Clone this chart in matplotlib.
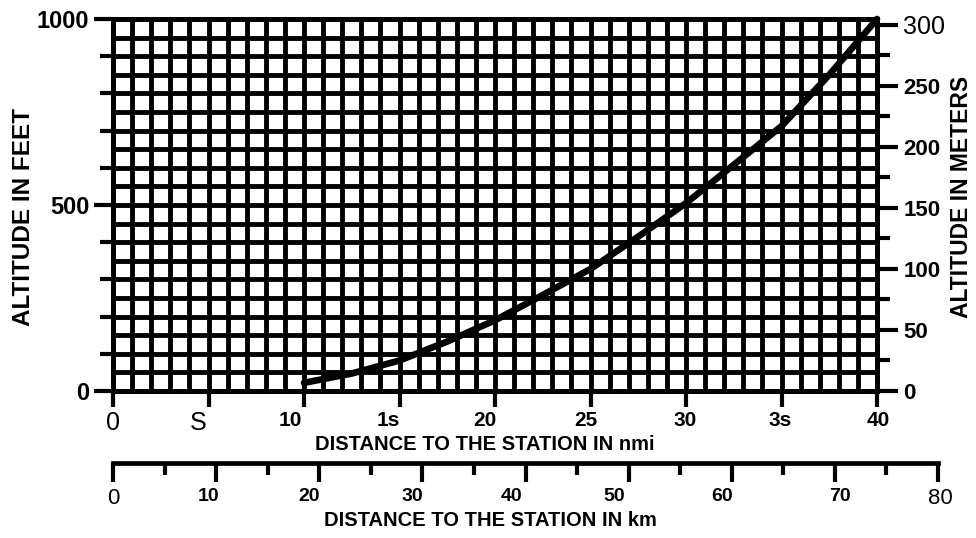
import matplotlib.pyplot as plt
import numpy as np
from matplotlib import font_manager
from matplotlib.transforms import ScaledTranslation

NM_TO_KM = 1.852
FT_PER_M = 3.28084

# Curve (distance in nmi, altitude in feet)
dist_nmi = [10, 12.5, 15, 17.5, 20, 22.5, 25, 27.5, 30, 32.5, 35, 37.5, 40]
alt_ft = [22, 47, 82, 133, 190, 258, 328, 415, 505, 608, 712, 850, 1000]

# Axis ticks / labels as printed on the original
nmi_ticks = [0, 5, 10, 15, 20, 25, 30, 35, 40]
nmi_labels = ["0", "S", "10", "1s", "20", "25", "30", "3s", "40"]
km_ticks = [0, 10, 20, 30, 40, 50, 60, 70, 80]
km_labels = ["0", "10", "20", "30", "40", "50", "60", "70", "80"]
ft_ticks = [0, 500, 1000]
ft_labels = ["0", "500", "1000"]
m_ticks = [0, 50, 100, 150, 200, 250, 300]
m_labels = ["0", "50", "100", "150", "200", "250", "300"]

# Styling of the individual labels (weights and pixel nudges seen in the scan)
nmi_weights = ["normal", "normal", "bold", "bold", "bold", "bold", "bold", "bold", "bold"]
nmi_dx = [0, -10, -14, -11, -10, -5, -1, -1, 1]
km_weights = ["normal", "bold", "bold", "bold", "bold", "bold", "bold", "bold", "normal"]
km_dx = [0, -8, -10, -10, -14, -14, -10, 5, 2]
m_weights = ["bold", "bold", "bold", "bold", "bold", "bold", "normal"]

names = {f.name for f in font_manager.fontManager.ttflist}
NARROW = "Liberation Sans Narrow" if "Liberation Sans Narrow" in names else "Liberation Sans"
plt.rcParams["font.family"] = "Liberation Sans"

W, H = 976, 538
fig = plt.figure(figsize=(W / 100, H / 100), dpi=100)

# plot area in pixels: x 113..877, y 19..391
x0, x1, y0, y1 = 113, 877, 19, 391
ax = fig.add_axes([x0 / W, 1 - y1 / H, (x1 - x0) / W, (y1 - y0) / H])
ax.set_xlim(0, 40)
ax.set_ylim(0, 1000)

# heavy graph-paper grid: 1 nmi by 50 ft
ax.vlines(np.arange(0, 41), 0, 1000, color="black", lw=3.5, zorder=1)
ax.hlines(np.arange(0, 1001, 50), 0, 40, color="black", lw=3.5, zorder=1)
for s in ax.spines.values():
    s.set_linewidth(3.6)

ax.plot(dist_nmi, alt_ft, color="black", lw=4.8, solid_capstyle="round",
        solid_joinstyle="round", zorder=3, clip_on=False)


def nudge(labels, dxs, weights, size_bold, size_norm):
    for lbl, dx, w in zip(labels, dxs, weights):
        lbl.set_fontweight(w)
        if w == "normal":
            lbl.set_fontfamily(NARROW)
            lbl.set_fontsize(size_norm)
        else:
            lbl.set_fontsize(size_bold)
        lbl.set_transform(lbl.get_transform()
                          + ScaledTranslation(dx / 100, 0, fig.dpi_scale_trans))


# bottom nmi axis
ax.set_xticks(nmi_ticks, nmi_labels)
ax.tick_params(axis="x", direction="out", length=11.5, width=3, pad=3)
nudge(ax.get_xticklabels(), nmi_dx, nmi_weights, 15, 18)

# left feet axis
ax.set_yticks(ft_ticks, ft_labels)
ax.set_yticks(np.arange(100, 1000, 100), minor=True)
ax.tick_params(axis="y", which="major", direction="out", length=14, width=3,
               pad=3, labelsize=17)
ax.tick_params(axis="y", which="minor", direction="out", length=9.4, width=3)
for lbl in ax.get_yticklabels():
    lbl.set_fontweight("bold")

# right meters axis
ax2 = ax.twinx()
ax2.set_ylim(0, 1000 / FT_PER_M)
ax2.set_yticks(m_ticks, m_labels)
ax2.set_yticks(np.arange(25, 300, 50), minor=True)
ax2.tick_params(axis="y", which="major", direction="out", length=15, width=3,
                pad=4)
ax2.tick_params(axis="y", which="minor", direction="out", length=9.4, width=3)
for s in ax2.spines.values():
    s.set_linewidth(3.6)
for lbl, w in zip(ax2.get_yticklabels(), m_weights):
    lbl.set_fontweight(w)
    if w == "normal":
        lbl.set_fontfamily(NARROW)
        lbl.set_fontsize(18)
    else:
        lbl.set_fontsize(16)

# separate km scale below
km_width = 80 / NM_TO_KM / 40 * (x1 - x0)
axk = fig.add_axes([x0 / W, 1 - 463 / H, km_width / W, 0.0001])
axk.set_xlim(0, 80)
axk.patch.set_visible(False)
for side in ["top", "left", "right"]:
    axk.spines[side].set_visible(False)
axk.spines["bottom"].set_linewidth(3.4)
axk.set_yticks([])
axk.set_xticks(km_ticks, km_labels)
axk.set_xticks(np.arange(5, 80, 10), minor=True)
axk.tick_params(axis="x", which="major", direction="out", length=14, width=3, pad=4)
axk.tick_params(axis="x", which="minor", direction="out", length=8.5, width=3)
nudge(axk.get_xticklabels(), km_dx, km_weights, 14, 16)

# axis titles
fig.text(24 / W, 1 - 217 / H, "ALTITUDE IN FEET", rotation=90, ha="center",
         va="center", fontsize=17.5, fontweight="bold")
fig.text(962 / W, 1 - 197 / H, "ALTITUDE IN METERS", rotation=90, ha="center",
         va="center", fontsize=16.5, fontweight="bold")
fig.text(485 / W, 1 - 445 / H, "DISTANCE TO THE STATION IN nmi", ha="center",
         va="center", fontsize=14.5, fontweight="bold")
fig.text(490 / W, 1 - 520 / H, "DISTANCE TO THE STATION IN km", ha="center",
         va="center", fontsize=14.5, fontweight="bold")

fig.savefig("out.png", dpi=100)
